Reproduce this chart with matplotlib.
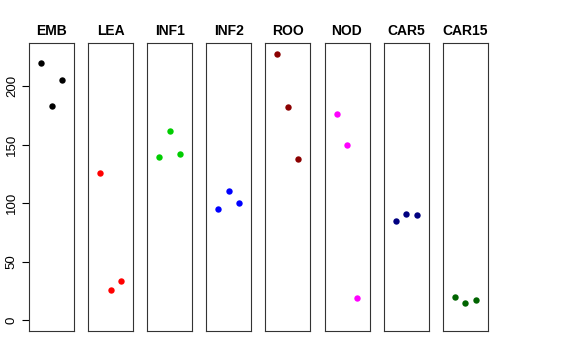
import matplotlib
matplotlib.use("Agg")
from matplotlib import pyplot as plt

plt.rcParams['font.family'] = ['Liberation Sans', 'DejaVu Sans']

groups = ['EMB', 'LEA', 'INF1', 'INF2', 'ROO', 'NOD', 'CAR5', 'CAR15']
colors = ['black', 'red', '#00CD00', 'blue', '#8B0000', 'magenta', '#000080', '#006400']
values = [
    [219.9, 183.2, 204.8],
    [125.6, 25.9, 33.9],
    [139.3, 161.5, 142.2],
    [95.4, 110.3, 100.0],
    [227.6, 182.0, 137.6],
    [176.0, 149.9, 19.1],
    [84.9, 90.6, 90.0],
    [20.0, 14.5, 17.4],
]
reps = [1, 2, 3]
yticks = [0, 50, 100, 150, 200]

W, H = 576, 360
fig = plt.figure(figsize=(W / 100, H / 100), dpi=100)

ymax = max(max(v) for v in values)
pad = 0.04 * ymax
for i, (name, col, vals) in enumerate(zip(groups, colors, values)):
    left = 29 + i * 59.1
    ax = fig.add_axes([left / W, 29 / H, 45 / W, 288 / H])
    ax.plot(reps, vals, 'o', color=col, markersize=4.6, markeredgewidth=0)
    ax.set_xlim(-0.16, 4.16)
    ax.set_ylim(-pad, ymax + pad)
    ax.set_xticks([])
    for s in ax.spines.values():
        s.set_linewidth(0.8)
        s.set_color('#333333')
    ax.set_title(name, fontsize=10, fontweight='bold', pad=6)
    if i == 0:
        ax.set_yticks(yticks)
        ax.set_yticklabels([str(t) for t in yticks], rotation=90, va='center', fontsize=9.5)
        ax.tick_params(axis='y', length=5, width=0.8, pad=3)
    else:
        ax.set_yticks([])

fig.savefig('out.png', dpi=100)
